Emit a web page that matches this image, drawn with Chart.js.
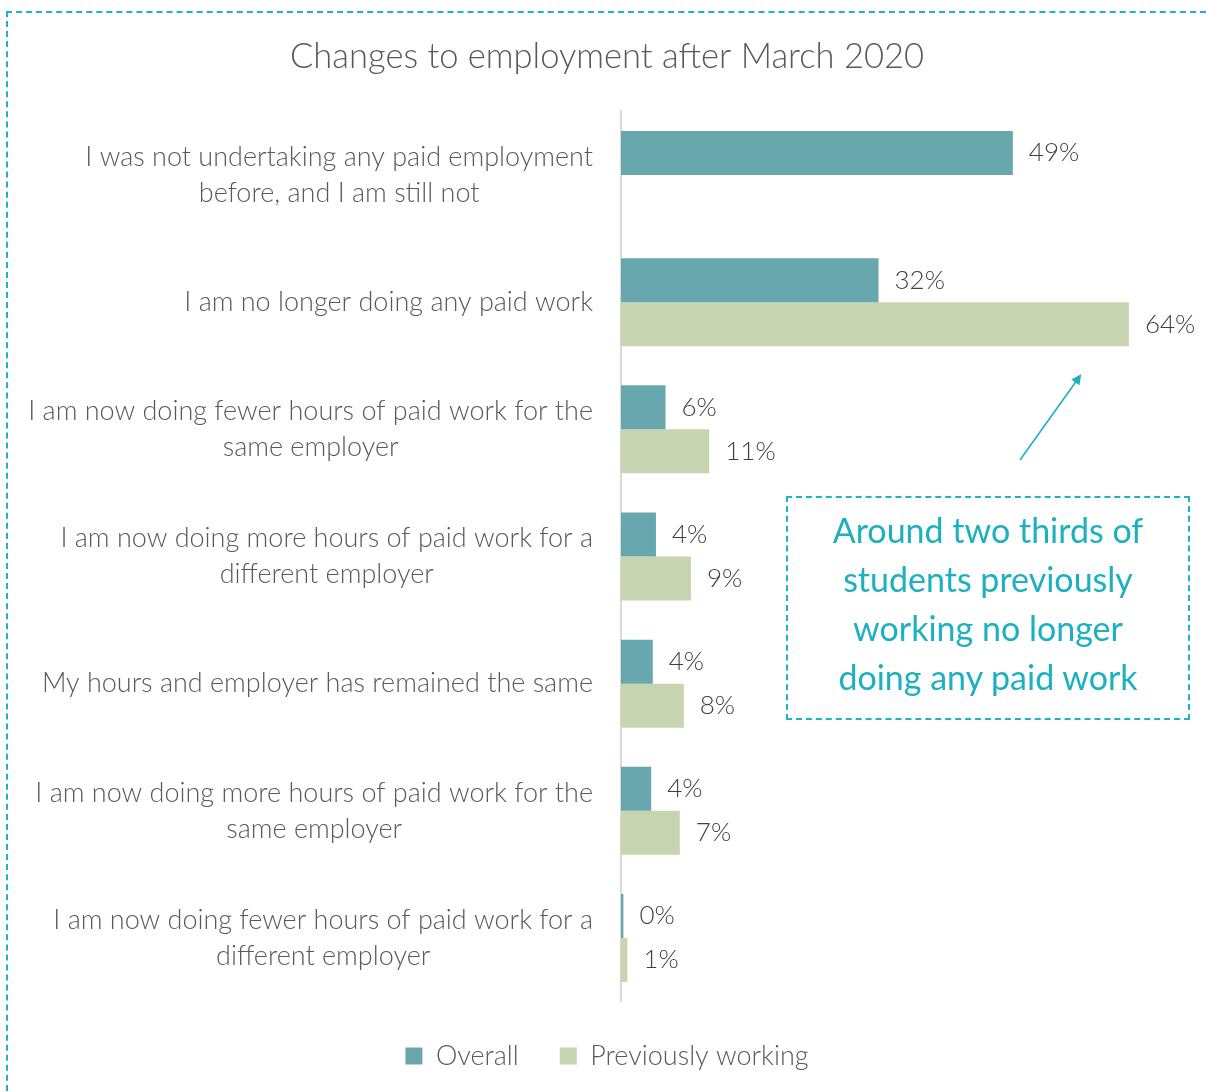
<!DOCTYPE html>
<html>
<head>
<meta charset="utf-8">
<script src="https://cdn.jsdelivr.net/npm/chart.js@4.4.1/dist/chart.umd.min.js"></script>
<style>
  html, body { margin: 0; padding: 0; background: #ffffff; }
  body { width: 1206px; height: 1092px; position: relative; overflow: hidden; }
  #frame {
    position: absolute; left: 6px; top: 11px; width: 1220px; height: 1110px;
    border: 2px dashed #1fb2c3; box-sizing: border-box;
  }
  #chart { position: absolute; left: 0; top: 0; }
  #note {
    position: absolute; left: 786px; top: 496px; width: 404px; height: 224px;
    border: 2px dashed #1fb2c3; box-sizing: border-box; padding-bottom: 11px;
    display: flex; align-items: center; justify-content: center; text-align: center;
    font-family: Lato, "Open Sans", sans-serif; font-size: 34px; line-height: 49px;
    color: #1db0c1;
  }
  #arrow { position: absolute; left: 0; top: 0; pointer-events: none; }
</style>
</head>
<body>
<div id="frame"></div>
<canvas id="chart" width="1206" height="1092"></canvas>
<svg id="arrow" width="1206" height="1092">
  <defs>
    <marker id="head" markerWidth="10" markerHeight="10" refX="8" refY="5" orient="auto" markerUnits="userSpaceOnUse">
      <path d="M0,0 L10,5 L0,10 Z" fill="#1db0c1"/>
    </marker>
  </defs>
  <line x1="1020" y1="460" x2="1080" y2="376" stroke="#1db0c1" stroke-width="1.6" marker-end="url(#head)"/>
</svg>
<div id="note"><div>Around two thirds of<br>students previously<br>working no longer<br>doing any paid work</div></div>

<script>
// Survey answers (one bar group per answer)
const categories = [
  ['I was not undertaking any paid employment', 'before, and I am still not'],
  'I am no longer doing any paid work',
  ['I am now doing fewer hours of paid work for the', 'same employer'],
  ['I am now doing more hours of paid work for a', 'different employer'],
  'My hours and employer has remained the same',
  ['I am now doing more hours of paid work for the', 'same employer'],
  ['I am now doing fewer hours of paid work for a', 'different employer']
];

// Share of respondents, %
const overall = [49.3, 32.4, 5.6, 4.4, 4.0, 3.8, 0.3];
const previouslyWorking = [null, 63.9, 11.1, 8.8, 7.9, 7.4, 0.8];

const seriesNames = ['Overall', 'Previously working'];
const chartTitle = 'Changes to employment after March 2020';

const FONT = 'Lato, "Open Sans", sans-serif';
const TEXT = '#595959';

// Category labels: each block right-aligned against the axis,
// with its lines centred on one another
const categoryLabels = {
  id: 'categoryLabels',
  afterDraw(chart) {
    const scale = chart.scales.y;
    const ctx = chart.ctx;
    const lineH = 36;
    const rightEdge = scale.right - 28;
    ctx.save();
    ctx.font = '300 27px ' + FONT;
    ctx.fillStyle = TEXT;
    ctx.textAlign = 'center';
    ctx.textBaseline = 'middle';
    chart.data.labels.forEach((label, i) => {
      const lines = Array.isArray(label) ? label : [label];
      const blockW = Math.max(...lines.map(l => ctx.measureText(l).width));
      const cx = rightEdge - blockW / 2;
      const cy = scale.getPixelForTick(i);
      const y0 = cy - (lines.length - 1) * lineH / 2;
      lines.forEach((l, k) => ctx.fillText(l, cx, y0 + k * lineH));
    });
    ctx.restore();
  }
};

// Writes "NN%" just past the end of each bar
const valueLabels = {
  id: 'valueLabels',
  afterDatasetsDraw(chart) {
    const ctx = chart.ctx;
    ctx.save();
    ctx.font = '300 26px ' + FONT;
    ctx.fillStyle = '#404040';
    ctx.textAlign = 'left';
    ctx.textBaseline = 'middle';
    chart.data.datasets.forEach((ds, di) => {
      const meta = chart.getDatasetMeta(di);
      meta.data.forEach((bar, i) => {
        const v = ds.data[i];
        if (v === null || v === undefined) return;
        ctx.fillText(Math.round(v) + '%', bar.x + 16, bar.y);
      });
    });
    ctx.restore();
  }
};

new Chart(document.getElementById('chart'), {
  type: 'bar',
  data: {
    labels: categories,
    datasets: [
      { label: seriesNames[0], data: overall, backgroundColor: '#69a7ae' },
      { label: seriesNames[1], data: previouslyWorking, backgroundColor: '#c6d5b0' }
    ]
  },
  options: {
    indexAxis: 'y',
    responsive: false,
    animation: false,
    devicePixelRatio: 1,
    layout: { padding: { left: 8, right: 0, top: 0, bottom: 12.4 } },
    datasets: { bar: { barPercentage: 1, categoryPercentage: 0.692 } },
    scales: {
      x: { display: false, min: 0, max: 73.6 },
      y: {
        grid: { display: false, drawTicks: false },
        border: { display: true, color: '#d9d9d9', width: 2 },
        ticks: { display: false },
        afterFit(scale) { scale.width = 613; }
      }
    },
    plugins: {
      title: {
        display: true,
        text: chartTitle,
        color: TEXT,
        font: { family: FONT, size: 34.5, weight: '300', lineHeight: 1.2 },
        padding: { top: 36.3, bottom: 33.7 }
      },
      legend: {
        position: 'bottom',
        labels: {
          color: TEXT,
          boxWidth: 17,
          boxHeight: 17,
          padding: 41,
          font: { family: FONT, size: 27, weight: '300' }
        }
      },
      tooltip: { enabled: false }
    }
  },
  plugins: [valueLabels, categoryLabels]
});
</script>
</body>
</html>
